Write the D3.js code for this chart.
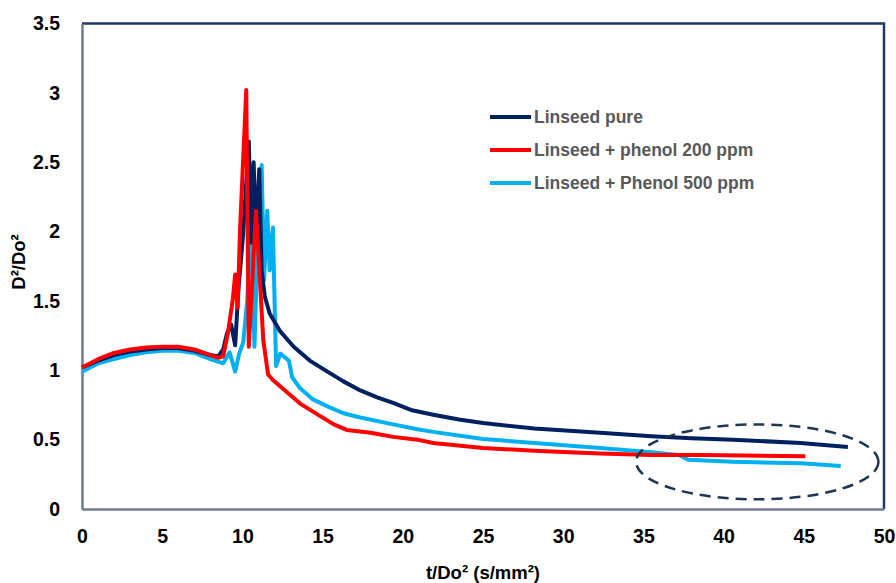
<!DOCTYPE html>
<html>
<head>
<meta charset="utf-8">
<script src="https://cdn.jsdelivr.net/npm/d3@7"></script>
<style>
  body { margin: 0; background: #fff; }
  svg { display: block; }
</style>
</head>
<body>
<div id="chart-area"></div>
<script>

// values
var pureT = [0, 1, 2, 3, 4, 5, 6, 7, 8, 8.5, 8.8, 9.05, 9.3, 9.55, 9.75, 10.05, 10.4, 10.55, 10.7, 10.86, 11.05, 11.2, 11.4, 11.7, 12.36, 13.2, 14.2, 15.3, 16.3, 17.35, 18.4, 19.4, 20.5, 21.9, 23.5, 25, 28.2, 32.3, 35.5, 38, 40.6, 44.8, 47.75];
var pureY = [1.02, 1.07, 1.11, 1.135, 1.15, 1.16, 1.16, 1.14, 1.11, 1.1, 1.15, 1.27, 1.33, 1.18, 1.58, 1.99, 2.65, 1.92, 2.5, 1.96, 2.45, 1.72, 1.53, 1.41, 1.28, 1.17, 1.07, 0.99, 0.92, 0.855, 0.805, 0.765, 0.714, 0.68, 0.645, 0.62, 0.58, 0.55, 0.525, 0.51, 0.5, 0.475, 0.447];

var p200T = [0, 1, 2, 3, 4, 5, 6, 7, 8, 8.5, 8.8, 9.1, 9.4, 9.55, 9.7, 9.86, 10.24, 10.4, 10.85, 11.3, 11.6, 11.9, 12.8, 13.6, 14.7, 15.7, 16.5, 18, 19.4, 20.9, 21.9, 25, 28.2, 32.3, 35.5, 38.6, 45.1];
var p200Y = [1.02, 1.08, 1.125, 1.15, 1.165, 1.17, 1.17, 1.15, 1.11, 1.09, 1.1, 1.27, 1.51, 1.69, 1.45, 2.03, 3.02, 1.17, 2.15, 1.22, 0.97, 0.93, 0.84, 0.76, 0.68, 0.61, 0.57, 0.55, 0.52, 0.5, 0.476, 0.44, 0.42, 0.4, 0.39, 0.39, 0.38];

var p500T = [0, 1, 2, 3, 4, 5, 6, 7, 8, 8.8, 9.2, 9.55, 9.8, 10.05, 10.3, 10.55, 10.75, 10.95, 11.2, 11.35, 11.55, 11.7, 11.9, 12.1, 12.36, 12.9, 13.1, 13.6, 14.4, 15.3, 16.3, 17.35, 19.4, 20.9, 21.9, 25, 28.2, 32.3, 35.5, 37.2, 37.8, 40.6, 44.8, 47.3];
var p500Y = [0.99, 1.05, 1.08, 1.11, 1.13, 1.14, 1.14, 1.125, 1.08, 1.05, 1.13, 0.99, 1.12, 1.2, 1.5, 2.13, 1.17, 1.9, 2.48, 1.65, 2.15, 1.72, 2.03, 1.03, 1.12, 1.07, 0.95, 0.87, 0.79, 0.74, 0.69, 0.66, 0.61, 0.575, 0.556, 0.505, 0.476, 0.44, 0.41, 0.39, 0.355, 0.34, 0.33, 0.31];

var seriesNames = ["Linseed pure", "Linseed + phenol 200 ppm", "Linseed + Phenol 500 ppm"];
var seriesColors = ["#002060", "#ff0000", "#00b0f0"];

var xTicks = [0, 5, 10, 15, 20, 25, 30, 35, 40, 45, 50];
var yTicks = [0, 0.5, 1, 1.5, 2, 2.5, 3, 3.5];

// dashed ellipse around the tail, in data units
var ringCenter = [42.1, 0.34];
var ringRadius = [7.55, 0.27];

var total_width = 896;
var total_height = 583;
var margin = {top: 23.5, right: 12, bottom: 74, left: 82};
var width = total_width - margin.left - margin.right;
var height = total_height - margin.top - margin.bottom;

var svg = d3.select('#chart-area').append('svg')
            .attr("width", total_width)
            .attr("height", total_height);

var chart = svg.append('g')
               .attr("transform", "translate(" + margin.left + "," + margin.top + ")");

var x = d3.scaleLinear().domain([0, 50]).range([0, width]);
var y = d3.scaleLinear().domain([0, 3.5]).range([height, 0]);

var tickFont = "'Liberation Sans', Arial, sans-serif";

// frame: top and right in navy
chart.append('path')
     .attr("d", "M0,0H" + width + "V" + height)
     .attr("fill", "none")
     .attr("stroke", "#1f3864")
     .attr("stroke-width", 2.5);

var xAxis = d3.axisBottom(x).tickValues(xTicks).tickSize(0).tickPadding(20)
              .tickFormat(d3.format("d"));
var yAxis = d3.axisLeft(y).tickValues(yTicks).tickSize(0).tickPadding(22)
              .tickFormat(function(d){ return String(d); });

var gx = chart.append('g').attr("transform", "translate(0," + height + ")").call(xAxis);
var gy = chart.append('g').call(yAxis);

[gx, gy].forEach(function(g){
  g.select(".domain").attr("stroke", "#6f7d90").attr("stroke-width", 2.5);
  g.selectAll("text")
   .attr("font-family", tickFont)
   .attr("font-weight", "bold")
   .attr("font-size", "19.5px")
   .attr("fill", "#000");
});

var line = d3.line()
             .x(function(d){ return x(d[0]); })
             .y(function(d){ return y(d[1]); });

var seriesData = [
  d3.zip(pureT, pureY),
  d3.zip(p200T, p200Y),
  d3.zip(p500T, p500Y)
];

// light blue first so the others sit on top like the original
[2, 0, 1].forEach(function(i){
  chart.append('path')
       .datum(seriesData[i])
       .attr("d", line)
       .attr("fill", "none")
       .attr("stroke", seriesColors[i])
       .attr("stroke-width", 4)
       .attr("stroke-linejoin", "round");
});

chart.append('ellipse')
     .attr("cx", x(ringCenter[0]))
     .attr("cy", y(ringCenter[1]))
     .attr("rx", x(ringRadius[0]) - x(0))
     .attr("ry", y(0) - y(ringRadius[1]))
     .attr("fill", "none")
     .attr("stroke", "#1f3550")
     .attr("stroke-width", 2.5)
     .attr("stroke-dasharray", "11,7");

// legend
var legend = svg.append('g').attr("transform", "translate(490,117)");
seriesNames.forEach(function(name, i){
  var row = legend.append('g').attr("transform", "translate(0," + (i * 33) + ")");
  row.append('line')
     .attr("x1", 0).attr("x2", 41)
     .attr("y1", 0).attr("y2", 0)
     .attr("stroke", seriesColors[i])
     .attr("stroke-width", 4);
  row.append('text')
     .attr("x", 44).attr("y", 6)
     .attr("font-family", tickFont)
     .attr("font-weight", "bold")
     .attr("font-size", "17.5px")
     .attr("fill", "#595959")
     .text(name);
});

// axis titles
svg.append('text')
   .attr("x", margin.left + width / 2)
   .attr("y", 579)
   .attr("text-anchor", "middle")
   .attr("font-family", tickFont)
   .attr("font-weight", "bold")
   .attr("font-size", "18.5px")
   .text("t/Do² (s/mm²)");

svg.append('text')
   .attr("transform", "translate(25,262) rotate(-90)")
   .attr("text-anchor", "middle")
   .attr("font-family", tickFont)
   .attr("font-weight", "bold")
   .attr("font-size", "18.5px")
   .text("D²/Do²");

</script>
</body>
</html>
